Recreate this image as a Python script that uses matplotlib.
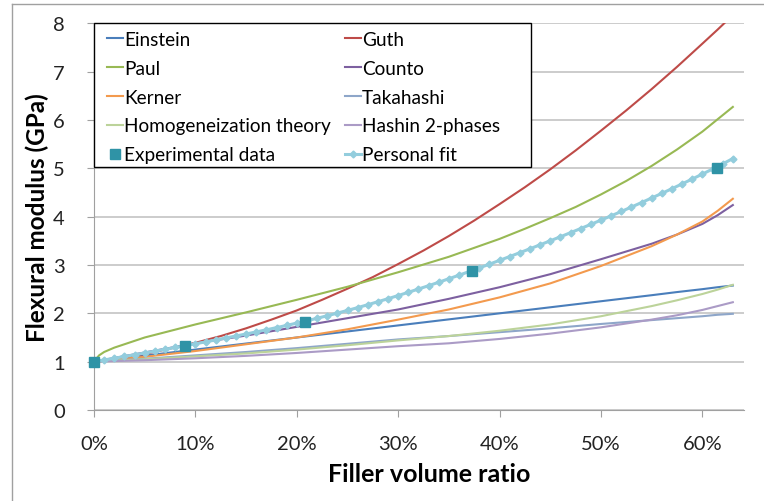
import matplotlib
matplotlib.use("Agg")
import matplotlib.pyplot as plt
from matplotlib.lines import Line2D
from matplotlib.patches import Rectangle
from matplotlib.ticker import FuncFormatter

plt.rcParams['font.family'] = ['Lato', 'DejaVu Sans']

# model curves (filler volume fraction -> GPa)
phi = [0.0, 0.05, 0.10, 0.15, 0.20, 0.25, 0.30, 0.35, 0.40, 0.45, 0.50, 0.55,
       0.575, 0.60, 0.615, 0.63]
einstein = [1.0, 1.125, 1.25, 1.375, 1.5, 1.625, 1.75, 1.875, 2.0, 2.125, 2.25, 2.375,
            2.44, 2.5, 2.54, 2.575]
counto = [1.0, 1.19, 1.38, 1.54, 1.72, 1.90, 2.08, 2.30, 2.54, 2.81, 3.12, 3.44,
          3.63, 3.85, 4.03, 4.24]
kerner = [1.0, 1.10, 1.22, 1.36, 1.50, 1.67, 1.87, 2.08, 2.33, 2.62, 2.98, 3.39,
          3.63, 3.90, 4.12, 4.37]
takahashi = [1.0, 1.06, 1.13, 1.20, 1.28, 1.37, 1.46, 1.53, 1.61, 1.69, 1.78, 1.86,
             1.90, 1.94, 1.97, 1.99]
homog = [1.0, 1.05, 1.11, 1.17, 1.25, 1.34, 1.44, 1.53, 1.64, 1.77, 1.94, 2.15,
         2.27, 2.40, 2.49, 2.59]
hashin = [1.0, 1.03, 1.07, 1.12, 1.18, 1.25, 1.32, 1.38, 1.47, 1.58, 1.71, 1.87,
          1.96, 2.07, 2.15, 2.23]

phi_guth = [0.0, 0.025, 0.05, 0.075, 0.10, 0.125, 0.15, 0.175, 0.20, 0.225, 0.25,
            0.275, 0.30, 0.325, 0.35, 0.375, 0.40, 0.425, 0.45, 0.475, 0.50, 0.525,
            0.55, 0.575, 0.60, 0.615, 0.63]
guth = [1.0, 1.07, 1.16, 1.27, 1.39, 1.53, 1.69, 1.87, 2.06, 2.28, 2.51, 2.75,
        3.02, 3.30, 3.60, 3.92, 4.26, 4.61, 4.98, 5.37, 5.78, 6.20, 6.64, 7.10,
        7.58, 7.87, 8.17]

phi_paul = [0.0, 0.005, 0.01, 0.02, 0.05, 0.10, 0.15, 0.20, 0.25, 0.30, 0.35, 0.40,
            0.425, 0.45, 0.475, 0.50, 0.525, 0.55, 0.575, 0.60, 0.63]
paul = [1.0, 1.13, 1.20, 1.29, 1.50, 1.77, 2.02, 2.28, 2.55, 2.85, 3.17, 3.54,
        3.75, 3.97, 4.20, 4.46, 4.74, 5.05, 5.39, 5.76, 6.27]

exp_phi = [0.0, 0.09, 0.208, 0.3725, 0.614]
exp_val = [1.0, 1.33, 1.816, 2.87, 5.01]

fit_phi = [i / 100 for i in range(64)]
fit_val = [1.000, 1.035, 1.071, 1.107, 1.143, 1.180, 1.217, 1.255, 1.293, 1.331,
           1.370, 1.409, 1.449, 1.490, 1.531, 1.573, 1.615, 1.659, 1.704, 1.750,
           1.798, 1.847, 1.897, 1.950, 2.004, 2.060, 2.118, 2.178, 2.240, 2.303,
           2.368, 2.435, 2.503, 2.572, 2.643, 2.716, 2.789, 2.864, 2.940, 3.017,
           3.096, 3.175, 3.255, 3.336, 3.418, 3.501, 3.584, 3.669, 3.754, 3.841,
           3.928, 4.017, 4.107, 4.199, 4.292, 4.386, 4.482, 4.579, 4.678, 4.779,
           4.881, 4.985, 5.092, 5.201]

fig = plt.figure(figsize=(7.64, 5.02), dpi=100)
ax = fig.add_axes([94 / 764, 1 - 411 / 502, 650 / 764, 386.7 / 502])

lw = 1.5
h_ein, = ax.plot(phi, einstein, color='#4A7EBB', lw=lw, label='Einstein')
h_guth, = ax.plot(phi_guth, guth, color='#BE4B48', lw=lw, label='Guth')
h_paul, = ax.plot(phi_paul, paul, color='#98B954', lw=lw, label='Paul')
h_counto, = ax.plot(phi, counto, color='#7D60A0', lw=lw, label='Counto')
h_kerner, = ax.plot(phi, kerner, color='#F39A4E', lw=lw, label='Kerner')
h_taka, = ax.plot(phi, takahashi, color='#8EA6C9', lw=lw, label='Takahashi')
h_homog, = ax.plot(phi, homog, color='#BCD39A', lw=lw, label='Homogeneization theory')
h_hashin, = ax.plot(phi, hashin, color='#AB9BC6', lw=lw, label='Hashin 2-phases')
h_fit, = ax.plot(fit_phi, fit_val, color='#93CDDD', lw=2.2, marker='D', ms=3.5,
                 label='Personal fit')
h_exp, = ax.plot(exp_phi, exp_val, ls='none', marker='s', ms=6.5, color='#2F93A6',
                 label='Experimental data', zorder=3, clip_on=False)

ax.set_xlim(0, 0.641)
ax.set_ylim(0, 8)
ax.set_xticks([0, 0.1, 0.2, 0.3, 0.4, 0.5, 0.6])
ax.xaxis.set_major_formatter(FuncFormatter(lambda v, p: '%d%%' % round(v * 100)))
ax.set_yticks(range(9))
ax.grid(axis='y', color='#BFBFBF', lw=1.1)
ax.set_axisbelow(True)
for s in ['top', 'right']:
    ax.spines[s].set_visible(False)
for s in ['left', 'bottom']:
    ax.spines[s].set_color('#A0A0A0')
ax.tick_params(axis='y', length=5, color='#A0A0A0', pad=16, labelsize=14.5,
               labelcolor='#222222')
ax.tick_params(axis='x', length=5, color='#A0A0A0', pad=13, labelsize=14.5,
               labelcolor='#222222')

ax.set_xlabel('Filler volume ratio', fontsize=18, fontweight='bold', labelpad=7)
ax.xaxis.label.set_x(0.515)
ax.set_ylabel('Flexural modulus (GPa)', fontsize=17.5, fontweight='bold', labelpad=3)

# legend box is wider than its entries, as in the spreadsheet original
box_w = (531 - 94) / 650
box_h = (168.3 - 24.3) / 386.7
ax.add_patch(Rectangle((0, 1 - box_h), box_w, box_h, transform=ax.transAxes,
                       facecolor='white', edgecolor='black', lw=1.0,
                       zorder=4, clip_on=False))

handles = [h_ein, h_paul, h_kerner, h_homog, h_exp,
           h_guth, h_counto, h_taka, h_hashin, h_fit]
leg = ax.legend(handles=handles, ncol=2, loc='upper left',
                bbox_to_anchor=((107 - 94) / 650, 1 - (32 - 24.3) / 386.7),
                fontsize=13.7, frameon=False, handlelength=0.85,
                handletextpad=0.05, columnspacing=0.72, labelspacing=0.62,
                borderpad=0, borderaxespad=0)
leg.set_zorder(5)

# chart area border (only left and top edges fall inside the picture)
fig.add_artist(Line2D([12 / 764, 12 / 764], [0, 1 - 5 / 502], color='#A0A0A0', lw=1))
fig.add_artist(Line2D([12 / 764, 1], [1 - 5 / 502, 1 - 5 / 502], color='#A0A0A0', lw=1))

fig.savefig('out.png', dpi=100)
